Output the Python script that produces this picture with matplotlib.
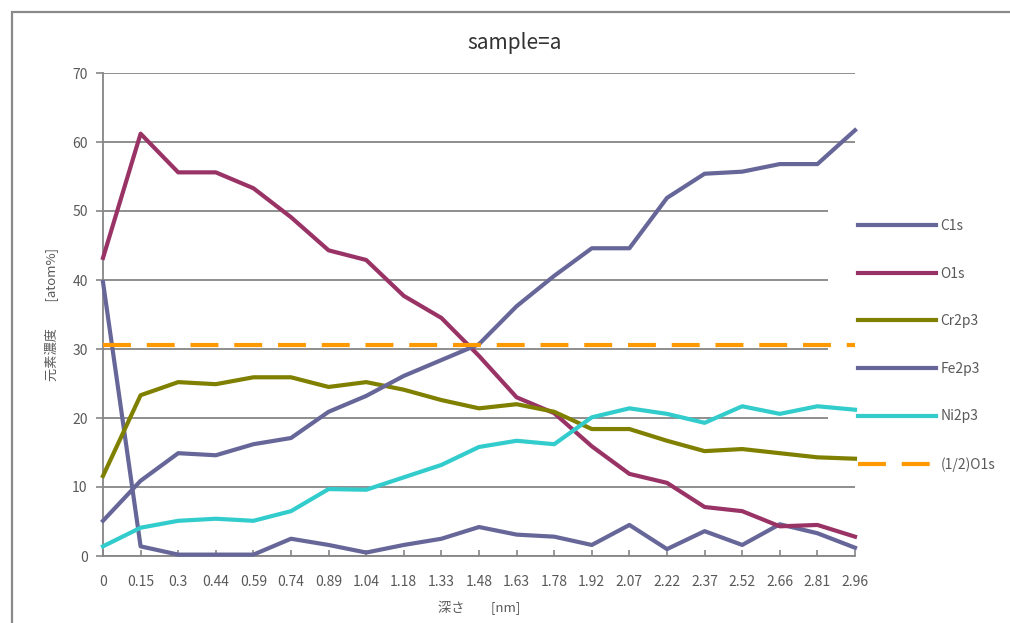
import matplotlib
matplotlib.use("Agg")
import matplotlib.pyplot as plt
from matplotlib.patches import Rectangle

plt.rcParams['font.family'] = ['Noto Sans CJK JP', 'DejaVu Sans']

# depth [nm]
depth = ['0', '0.15', '0.3', '0.44', '0.59', '0.74', '0.89', '1.04', '1.18', '1.33',
         '1.48', '1.63', '1.78', '1.92', '2.07', '2.22', '2.37', '2.52', '2.66', '2.81', '2.96']

# atom %
c1s = [39.7, 1.4, 0.2, 0.2, 0.2, 2.5, 1.6, 0.5, 1.6, 2.5,
       4.2, 3.1, 2.8, 1.6, 4.5, 1.0, 3.6, 1.6, 4.6, 3.3, 1.2]
o1s = [43.2, 61.2, 55.6, 55.6, 53.3, 49.1, 44.3, 42.9, 37.7, 34.5,
       29.0, 23.0, 20.7, 15.9, 11.9, 10.6, 7.1, 6.5, 4.3, 4.5, 2.8]
cr2p3 = [11.6, 23.3, 25.2, 24.9, 25.9, 25.9, 24.5, 25.2, 24.1, 22.6,
         21.4, 22.0, 20.9, 18.4, 18.4, 16.7, 15.2, 15.5, 14.9, 14.3, 14.1]
fe2p3 = [5.1, 10.9, 14.9, 14.6, 16.2, 17.1, 20.9, 23.2, 26.1, 28.4,
         30.7, 36.2, 40.6, 44.6, 44.6, 51.9, 55.4, 55.7, 56.8, 56.8, 61.7]
ni2p3 = [1.4, 4.1, 5.1, 5.4, 5.1, 6.5, 9.7, 9.6, 11.4, 13.2,
         15.8, 16.7, 16.2, 20.1, 21.4, 20.6, 19.3, 21.7, 20.6, 21.7, 21.2]
half_o1s = [30.6, 30.6, 30.6, 30.6, 30.6, 30.6, 30.6, 30.6, 30.6, 30.6,
            30.6, 30.6, 30.6, 30.6, 30.6, 30.6, 30.6, 30.6, 30.6, 30.6, 30.6]

W, H = 1010, 623
fig = plt.figure(figsize=(W / 100, H / 100), dpi=100)
ax = fig.add_axes([103 / W, 1 - 556 / H, (855 - 103) / W, (556 - 73) / H])

gray = '#868686'
txt = '#595959'
x = range(len(depth))

# chart border (only left/top edges fall inside the image)
fig.patches.append(Rectangle((12 / W, -0.1), 1.2, 1 - 12 / H + 0.1, transform=fig.transFigure,
                             fill=False, edgecolor='#8a8a8a', linewidth=1.6))

series = [
    ('C1s', c1s, '#666699', '-'),
    ('O1s', o1s, '#993366', '-'),
    ('Cr2p3', cr2p3, '#808000', '-'),
    ('Fe2p3', fe2p3, '#666699', '-'),
    ('Ni2p3', ni2p3, '#33CCCC', '-'),
    ('(1/2)O1s', half_o1s, '#FF9900', '--'),
]
handles = []
for name, vals, col, ls in series:
    ln, = ax.plot(x, vals, color=col, lw=3, ls=ls, label=name, clip_on=False,
                  solid_joinstyle='round', zorder=3)
    if ls == '--':
        ln.set_dashes((6.7, 3.8))
    handles.append(ln)

ax.set_xlim(0, len(depth) - 1)
ax.set_ylim(0, 70)
ax.set_yticks(range(0, 71, 10))
ax.set_xticks(list(x))
ax.set_xticklabels(depth)
ax.grid(axis='y', color=gray, lw=1.3)
ax.set_axisbelow(True)

# white area behind the legend hides part of the gridlines
ax.add_patch(Rectangle((0.964, 0.16), 0.04, 0.6, transform=ax.transAxes,
                       facecolor='white', edgecolor='none', zorder=1.5, clip_on=False))

for s in ['top', 'right']:
    ax.spines[s].set_visible(False)
for s in ['left', 'bottom']:
    ax.spines[s].set_color(gray)
    ax.spines[s].set_linewidth(1.3)
ax.tick_params(axis='x', direction='in', length=4, width=1.2, color=gray,
               labelsize=10, labelcolor=txt, pad=14)
ax.tick_params(axis='y', direction='out', length=5, width=1.2, color=gray,
               labelsize=10, labelcolor=txt, pad=6)

fig.text(515 / W, 1 - 43 / H, 'sample=a', fontsize=15, color='#333333',
         ha='center', va='center')
ax.set_xlabel('深さ　　[nm]', fontsize=9.5, color=txt, labelpad=8)
ax.set_ylabel('元素濃度　　[atom%]', fontsize=9.5, color=txt, labelpad=10)

fig.legend(handles=handles, loc='upper left', bbox_to_anchor=(858 / W, 1 - 219 / H),
           frameon=False, fontsize=10, labelcolor=txt, borderpad=0, borderaxespad=0,
           handlelength=5.6, handletextpad=0.35, labelspacing=2.42)

fig.savefig('out.png', dpi=100)
